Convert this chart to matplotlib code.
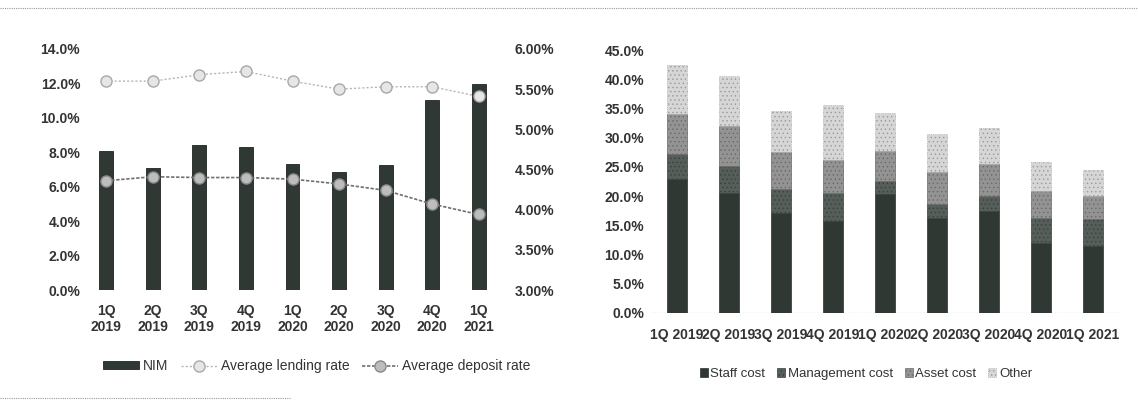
import matplotlib
matplotlib.use("Agg")
import matplotlib.pyplot as plt
from matplotlib.lines import Line2D
from matplotlib.ticker import FuncFormatter, MultipleLocator
import numpy as np

# ---------------- data ----------------
quarters = ["1Q", "2Q", "3Q", "4Q", "1Q", "2Q", "3Q", "4Q", "1Q"]
years = ["2019", "2019", "2019", "2019", "2020", "2020", "2020", "2020", "2021"]
nim = [8.07, 7.07, 8.40, 8.29, 7.30, 6.84, 7.26, 11.04, 11.95]
lending_rate = [5.60, 5.60, 5.68, 5.72, 5.60, 5.50, 5.53, 5.53, 5.41]
deposit_rate = [4.36, 4.41, 4.40, 4.40, 4.38, 4.32, 4.24, 4.07, 3.94]

cost_labels = ["1Q 2019", "2Q 2019", "3Q 2019", "4Q 2019", "1Q 2020",
               "2Q 2020", "3Q 2020", "4Q 2020", "1Q 2021"]
staff_cost = [22.9, 20.6, 17.1, 15.7, 20.3, 16.3, 17.4, 11.9, 11.4]
management_cost = [4.3, 4.6, 4.1, 4.9, 2.3, 2.3, 2.6, 4.4, 4.6]
asset_cost = [6.8, 6.8, 6.3, 5.5, 5.2, 5.5, 5.5, 4.6, 4.0]
other_cost = [8.5, 8.6, 7.1, 9.5, 6.5, 6.6, 6.2, 4.9, 4.4]

# ---------------- style ----------------
plt.rcParams["font.family"] = ["Liberation Sans", "DejaVu Sans"]
plt.rcParams["font.size"] = 10
plt.rcParams["hatch.linewidth"] = 0.5
txt = "#333333"

fig = plt.figure(figsize=(11.38, 4.05), dpi=100)
W, H = 1138, 405

def ax_rect(x0, y_top, x1, y_bot):
    return [x0 / W, 1 - y_bot / H, (x1 - x0) / W, (y_bot - y_top) / H]

# ---------------- left chart ----------------
ax1 = fig.add_axes(ax_rect(83, 49, 502, 290))
x = np.arange(len(nim))
ax1.bar(x, nim, width=0.3, color="#2f3833", edgecolor="#1e2421", linewidth=0.6,
        label="NIM", zorder=2)
ax1.set_xlim(-0.5, len(nim) - 0.5)
ax1.set_ylim(0, 14)
ax1.yaxis.set_major_locator(MultipleLocator(2))
ax1.yaxis.set_major_formatter(FuncFormatter(lambda v, p: f"{v:.1f}%"))
ax1.set_xticks(x)
ax1.set_xticklabels([f"{q}\n{y}" for q, y in zip(quarters, years)],
                    fontweight="bold", color=txt)
for s in ax1.spines.values():
    s.set_visible(False)
ax1.axhline(0, color="#c8c8c8", lw=0.8, ls=(0, (1, 3)), zorder=1)
ax1.tick_params(axis="both", length=0, colors=txt, labelsize=10)
ax1.tick_params(axis="x", pad=10)
ax1.tick_params(axis="y", pad=2)
for t in ax1.get_yticklabels():
    t.set_fontweight("bold")

ax2 = ax1.twinx()
ax2.set_ylim(3.0, 6.0)
ax2.yaxis.set_major_locator(MultipleLocator(0.5))
ax2.yaxis.set_major_formatter(FuncFormatter(lambda v, p: f"{v:.2f}%"))
ax2.plot(x, lending_rate, color="#b5b5b5", lw=1.0, ls=(0, (1.5, 1.5)),
         marker="o", ms=8, mfc="#e6e6e6", mec="#a8a8a8", mew=1.0,
         label="Average lending rate", zorder=3)
ax2.plot(x, deposit_rate, color="#6f6f6f", lw=1.2, ls=(0, (2, 1)),
         marker="o", ms=8, mfc="#bdbdbd", mec="#8a8a8a", mew=1.0,
         label="Average deposit rate", zorder=3)
for s in ax2.spines.values():
    s.set_visible(False)
ax2.tick_params(axis="y", length=0, colors=txt, labelsize=10, pad=9)
for t in ax2.get_yticklabels():
    t.set_fontweight("bold")

h1, l1 = ax1.get_legend_handles_labels()
h2, l2 = ax2.get_legend_handles_labels()
fig.legend(h1 + h2, l1 + l2, loc="center left", bbox_to_anchor=(90 / W, 1 - 366 / H),
           ncol=3, frameon=False, fontsize=10, handlelength=2.6, handleheight=0.5,
           handletextpad=0.3, columnspacing=0.9, labelcolor=txt)

# ---------------- right chart ----------------
ax3 = fig.add_axes(ax_rect(651, 50, 1119, 313))
xr = np.arange(len(cost_labels))
bw = 0.39
b1 = np.array(staff_cost)
b2 = b1 + np.array(management_cost)
b3 = b2 + np.array(asset_cost)
ax3.bar(xr, staff_cost, width=bw, color="#2f3833", edgecolor="#2a312d", lw=0.5,
        label="Staff cost", zorder=2)
ax3.bar(xr, management_cost, width=bw, bottom=b1, color="#565e5a", edgecolor="#3a403c",
        lw=0.5, hatch="....", label="Management cost", zorder=2)
ax3.bar(xr, asset_cost, width=bw, bottom=b2, color="#939393", edgecolor="#6a6a6a",
        lw=0.5, hatch="....", label="Asset cost", zorder=2)
ax3.bar(xr, other_cost, width=bw, bottom=b3, color="#d6d6d6", edgecolor="#9a9a9a",
        lw=0.5, hatch="....", ls=":", label="Other", zorder=2)
ax3.set_xlim(-0.5, len(cost_labels) - 0.5)
ax3.set_ylim(0, 45)
ax3.yaxis.set_major_locator(MultipleLocator(5))
ax3.yaxis.set_major_formatter(FuncFormatter(lambda v, p: f"{v:.1f}%"))
ax3.set_xticks(xr)
ax3.set_xticklabels(cost_labels, fontweight="bold", color=txt)
for s in ax3.spines.values():
    s.set_visible(False)
ax3.axhline(0, color="#9a9a9a", lw=0.9, ls=(0, (1, 1.5)), zorder=1)
ax3.tick_params(axis="both", length=0, colors=txt, labelsize=10)
ax3.tick_params(axis="x", pad=11)
ax3.tick_params(axis="y", pad=5)
for t in ax3.get_yticklabels():
    t.set_fontweight("bold")

ax3.legend(loc="center left", bbox_to_anchor=(688 / W, 1 - 374 / H),
           bbox_transform=fig.transFigure,
           ncol=4, frameon=False, fontsize=9.5, handlelength=0.6, handleheight=0.6,
           handletextpad=0.2, columnspacing=0.9, labelcolor=txt)

# ---------------- scan page rules ----------------
fig.add_artist(Line2D([0, 1], [1 - 8 / H, 1 - 8 / H], transform=fig.transFigure,
                      color="#9a9a9a", lw=0.8, ls=(0, (1, 1))))
fig.add_artist(Line2D([0, 290 / W], [1 - 398 / H, 1 - 398 / H], transform=fig.transFigure,
                      color="#9a9a9a", lw=0.8, ls=(0, (1, 1))))

fig.savefig("out.png", dpi=100, facecolor="white")
